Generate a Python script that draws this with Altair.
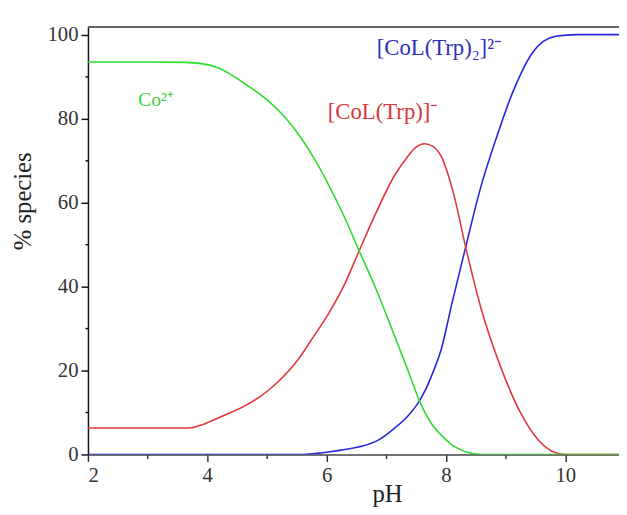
import altair as alt
import pandas as pd

# ---- data ----
ph_co = [2.0, 3.0, 3.6, 3.9, 4.2, 4.66, 5.0, 5.32, 5.49, 5.82, 6.03, 6.3, 6.53, 6.81, 7.14, 7.35, 7.58, 7.75, 7.92, 8.1, 8.25, 8.45, 8.6, 10.9]
co = [93.5, 93.5, 93.4, 93.1, 92.0, 88.0, 84.5, 80.0, 77.0, 69.8, 64.3, 56.5, 49.0, 40.0, 28.2, 20.5, 12.0, 7.5, 4.6, 2.3, 1.1, 0.2, 0.0, 0.0]

ph_col = [2.0, 3.0, 3.7, 3.9, 4.2, 4.66, 5.0, 5.2, 5.49, 5.8, 6.03, 6.3, 6.53, 6.81, 7.14, 7.36, 7.5, 7.64, 7.78, 7.92, 8.13, 8.33, 8.58, 8.91, 9.24, 9.57, 9.84, 10.0, 10.9]
col = [6.3, 6.3, 6.3, 7.0, 8.8, 11.8, 15.0, 17.5, 22.0, 28.5, 33.5, 40.5, 48.0, 57.0, 66.5, 71.0, 73.2, 74.0, 73.4, 71.0, 62.0, 49.4, 35.2, 21.1, 10.2, 3.1, 0.4, 0.0, 0.0]

ph_col2 = [2.0, 5.6, 5.93, 6.3, 6.6, 6.85, 7.14, 7.35, 7.52, 7.65, 7.78, 7.92, 8.1, 8.33, 8.58, 8.84, 9.12, 9.45, 9.84, 10.2, 10.9]
col2 = [0.0, 0.0, 0.4, 1.2, 2.0, 3.3, 6.3, 9.0, 12.0, 15.2, 19.5, 25.0, 36.0, 49.4, 63.5, 75.2, 86.3, 95.7, 99.6, 100.0, 100.0]

series_names = ["[CoL(Trp)2]2-", "[CoL(Trp)]-", "Co2+"]
series_colors = ["#2626dc", "#e0383c", "#2edc2e"]

x_ticks = [2, 3, 4, 5, 6, 7, 8, 9, 10]
y_ticks = [0, 10, 20, 30, 40, 50, 60, 70, 80, 90, 100]

labels = ["Co²⁺", "[CoL(Trp)]⁻", "[CoL(Trp)₂]²⁻"]
label_ph = [2.84, 6.02, 6.84]
label_pct = [83.0, 80.0, 95.2]
label_colors = ["#3ad23a", "#d8363a", "#2e2ec0"]
label_sizes = [20, 23, 23]

# ---- build table ----
rows = []
for name, xs, ys in [(series_names[0], ph_col2, col2),
                     (series_names[1], ph_col, col),
                     (series_names[2], ph_co, co)]:
    for i, (x, y) in enumerate(zip(xs, ys)):
        rows.append({"species": name, "pH": x, "pct": y, "order": i})
df = pd.DataFrame(rows)

x_scale = alt.Scale(domain=[2, 10.9], nice=False, zero=False, clamp=True)
y_scale = alt.Scale(domain=[0, 101.8], nice=False)

x_axis = alt.Axis(
    values=x_ticks, format="d",
    labelExpr="datum.value % 2 === 0 ? datum.label : ''",
    tickSize={"condition": {"test": "datum.value % 2 === 0", "value": 7}, "value": 4},
    grid=False, title="pH", titleX=303, titleY=28, titleBaseline="top",
    titleFontSize=25, titleFontWeight="normal", titleColor="#222",
    domainColor="#444", tickColor="#333", labelPadding=3,
)
y_axis = alt.Axis(
    values=y_ticks, format="d",
    labelExpr="datum.value % 20 === 0 ? datum.label : ''",
    tickSize={"condition": {"test": "datum.value % 20 === 0", "value": 7}, "value": 3},
    grid=False, title="% species", titleX=-53, titleY=176,
    titleFontSize=25, titleFontWeight="normal", titleColor="#222",
    domainColor="#111", tickColor="#111", labelPadding=3,
)

lines = alt.Chart(df).mark_line(strokeWidth=1.6, clip=True, interpolate="monotone").encode(
    x=alt.X("pH:Q", scale=x_scale, axis=x_axis),
    y=alt.Y("pct:Q", scale=y_scale, axis=y_axis),
    color=alt.Color("species:N", scale=alt.Scale(domain=series_names, range=series_colors), legend=None),
    order="order:Q",
    detail="species:N",
)

top_border = alt.Chart(pd.DataFrame({"v": [101.8]})).mark_rule(color="#666", strokeWidth=2).encode(
    y=alt.Y("v:Q", scale=y_scale)
)

layers = [lines, top_border]
for t, x, y, c, s in zip(labels, label_ph, label_pct, label_colors, label_sizes):
    layers.append(
        alt.Chart(pd.DataFrame({"pH": [x], "pct": [y], "t": [t]})).mark_text(
            align="left", baseline="alphabetic", font="Liberation Serif", fontSize=s, color=c
        ).encode(
            x=alt.X("pH:Q", scale=x_scale),
            y=alt.Y("pct:Q", scale=y_scale),
            text="t:N",
        )
    )

chart = alt.layer(*layers).properties(
    width=538, height=433,
    padding={"left": 81, "top": 16, "right": 0, "bottom": 58},
    autosize=alt.AutoSizeParams(type="none"),
    background="white",
).configure_view(stroke=None).configure_axis(
    labelFont="Liberation Serif", titleFont="Liberation Serif",
    labelFontSize=21, labelColor="#333", domainWidth=1.5, tickWidth=1.5,
)

chart.save("out.html", embed_options={"renderer": "svg", "actions": False})
